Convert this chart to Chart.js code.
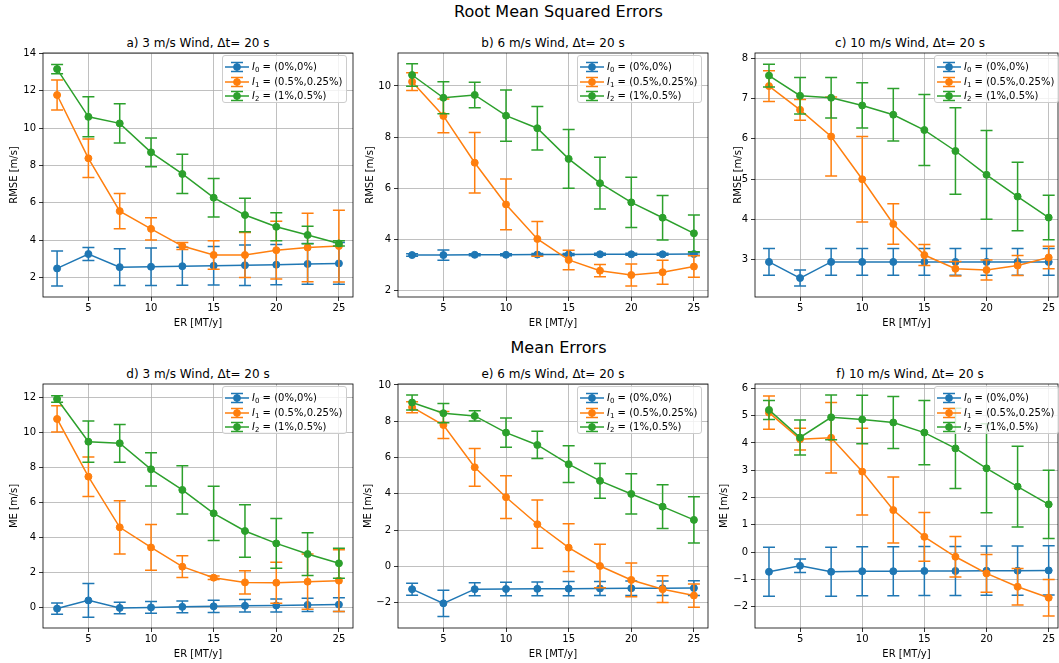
<!DOCTYPE html>
<html>
<head>
<meta charset="utf-8">
<script src="https://cdn.jsdelivr.net/npm/chart.js@4.4.0/dist/chart.umd.min.js"></script>
<style>
html,body{margin:0;padding:0;background:#fff;}
body{width:1059px;height:663px;overflow:hidden;position:relative;font-family:'DejaVu Sans',sans-serif;color:#000;}
.suptitle{position:absolute;left:0;width:1117px;text-align:center;font-size:16px;line-height:18px;white-space:nowrap;}
.ptitle{position:absolute;text-align:center;font-size:12px;line-height:14px;white-space:nowrap;}
.panel{position:absolute;}
.leg{position:absolute;width:125px;height:48px;border:1px solid #cccccc;border-radius:3px;background:rgba(255,255,255,0.8);box-sizing:border-box;z-index:5;}
.leg .row{position:absolute;left:0;height:12px;}
.leg svg{position:absolute;left:1px;top:0;}
.leg .txt{position:absolute;left:29px;top:0;font-size:10px;line-height:12px;white-space:nowrap;}
.leg .txt i{font-style:italic;}
.leg .txt sub{font-size:7px;vertical-align:-2px;line-height:0;}
</style>
</head>
<body>
<div class="suptitle" style="top:3px;">Root Mean Squared Errors</div>
<div class="suptitle" style="top:339px;">Mean Errors</div>
<script>
// ---------------- data ----------------
const ER = [2.5, 5, 7.5, 10, 12.5, 15, 17.5, 20, 22.5, 25];
const xTicks = [5, 10, 15, 20, 25];
const legendSubs = ['0', '1', '2'];
const legendValues = ['(0%,0%)', '(0.5%,0.25%)', '(1%,0.5%)'];
const panelTitles = ['a) 3 m/s Wind, \u0394t= 20 s', 'b) 6 m/s Wind, \u0394t= 20 s', 'c) 10 m/s Wind, \u0394t= 20 s',
                     'd) 3 m/s Wind, \u0394t= 20 s', 'e) 6 m/s Wind, \u0394t= 20 s', 'f) 10 m/s Wind, \u0394t= 20 s'];
const xLabel = 'ER [MT/y]';
const yLabels = ['RMSE [m/s]', 'RMSE [m/s]', 'RMSE [m/s]', 'ME [m/s]', 'ME [m/s]', 'ME [m/s]'];

// a) RMSE 3 m/s
const rmse3_I0 = [2.48, 3.25, 2.55, 2.57, 2.60, 2.62, 2.65, 2.68, 2.72, 2.75];
const rmse3_I0_err = [0.94, 0.35, 0.99, 1.0, 1.02, 1.03, 1.08, 1.08, 1.09, 1.12];
const rmse3_I1 = [11.77, 8.38, 5.55, 4.60, 3.68, 3.20, 3.20, 3.46, 3.60, 3.68];
const rmse3_I1_err = [0.8, 1.03, 0.94, 0.6, 0.19, 0.76, 1.2, 1.55, 1.83, 1.92];
const rmse3_I2 = [13.16, 10.6, 10.25, 8.7, 7.54, 6.27, 5.34, 4.71, 4.27, 3.82];
const rmse3_I2_err = [0.25, 1.07, 1.05, 0.77, 1.05, 1.03, 0.9, 0.75, 0.47, 0.14];
// b) RMSE 6 m/s
const rmse6_I0 = [3.39, 3.39, 3.40, 3.40, 3.41, 3.41, 3.42, 3.42, 3.42, 3.43];
const rmse6_I0_err = [0.05, 0.2, 0.04, 0.04, 0.04, 0.04, 0.04, 0.04, 0.04, 0.05];
const rmse6_I1 = [10.17, 8.83, 7.0, 5.37, 4.02, 3.20, 2.78, 2.61, 2.72, 2.94];
const rmse6_I1_err = [0.35, 0.66, 1.18, 0.99, 0.68, 0.38, 0.24, 0.43, 0.47, 0.42];
const rmse6_I2 = [10.43, 9.54, 9.65, 8.84, 8.35, 7.15, 6.2, 5.45, 4.85, 4.24];
const rmse6_I2_err = [0.44, 0.63, 0.5, 1.0, 0.85, 1.15, 1.01, 0.98, 0.87, 0.72];
// c) RMSE 10 m/s
const rmse10_I0 = [2.95, 2.55, 2.95, 2.95, 2.95, 2.95, 2.95, 2.95, 2.95, 2.95];
const rmse10_I0_err = [0.33, 0.2, 0.33, 0.33, 0.33, 0.33, 0.33, 0.33, 0.33, 0.33];
const rmse10_I1 = [7.31, 6.72, 6.06, 5.0, 3.89, 3.12, 2.78, 2.75, 2.86, 3.06];
const rmse10_I1_err = [0.38, 0.26, 0.98, 1.06, 0.5, 0.26, 0.18, 0.25, 0.25, 0.28];
const rmse10_I2 = [7.57, 7.07, 7.02, 6.83, 6.6, 6.22, 5.7, 5.11, 4.57, 4.05];
const rmse10_I2_err = [0.28, 0.45, 0.5, 0.56, 0.65, 0.88, 1.07, 1.1, 0.85, 0.55];
// d) ME 3 m/s
const me3_I0 = [-0.07, 0.4, -0.03, 0.0, 0.03, 0.06, 0.09, 0.11, 0.14, 0.16];
const me3_I0_err = [0.32, 0.96, 0.33, 0.33, 0.34, 0.35, 0.36, 0.37, 0.38, 0.39];
const me3_I1 = [10.78, 7.48, 4.58, 3.43, 2.33, 1.70, 1.43, 1.41, 1.47, 1.53];
const me3_I1_err = [0.75, 1.13, 1.52, 1.31, 0.62, 0.1, 0.67, 1.17, 1.58, 1.76];
const me3_I2 = [11.92, 9.48, 9.39, 7.9, 6.72, 5.38, 4.37, 3.66, 3.05, 2.52];
const me3_I2_err = [0.19, 1.18, 1.08, 0.95, 1.38, 1.55, 1.5, 1.42, 1.22, 0.86];
// e) ME 6 m/s
const me6_I0 = [-1.26, -2.04, -1.26, -1.25, -1.24, -1.23, -1.22, -1.21, -1.21, -1.20];
const me6_I0_err = [0.33, 0.72, 0.36, 0.37, 0.38, 0.39, 0.39, 0.4, 0.4, 0.41];
const me6_I1 = [8.77, 7.79, 5.46, 3.81, 2.32, 1.03, 0.02, -0.75, -1.26, -1.61];
const me6_I1_err = [0.3, 0.75, 1.04, 1.18, 1.33, 1.31, 1.2, 0.93, 0.74, 0.64];
const me6_I2 = [9.03, 8.44, 8.29, 7.37, 6.69, 5.63, 4.71, 3.99, 3.29, 2.56];
const me6_I2_err = [0.41, 0.53, 0.28, 0.8, 0.75, 1.01, 0.96, 1.11, 1.21, 1.27];
// f) ME 10 m/s
const me10_I0 = [-0.72, -0.5, -0.72, -0.7, -0.7, -0.69, -0.69, -0.68, -0.68, -0.67];
const me10_I0_err = [0.9, 0.25, 0.9, 0.9, 0.9, 0.9, 0.9, 0.9, 0.9, 0.9];
const me10_I1 = [5.11, 4.14, 4.19, 2.95, 1.54, 0.56, -0.17, -0.78, -1.27, -1.67];
const me10_I1_err = [0.61, 0.4, 1.29, 1.59, 1.21, 0.89, 0.74, 0.69, 0.67, 0.67];
const me10_I2 = [5.21, 4.2, 4.94, 4.86, 4.75, 4.38, 3.8, 3.07, 2.4, 1.75];
const me10_I2_err = [0.35, 0.64, 0.82, 0.89, 0.95, 1.18, 1.47, 1.63, 1.48, 1.25];

// y tick labels per panel
const yTicksA = [2, 4, 6, 8, 10, 12, 14];
const yTicksB = [2, 4, 6, 8, 10];
const yTicksC = [3, 4, 5, 6, 7, 8];
const yTicksD = [0, 2, 4, 6, 8, 10, 12];
const yTicksE = [-2, 0, 2, 4, 6, 8, 10];
const yTicksF = [-2, -1, 0, 1, 2, 3, 4, 5, 6];

// ---------------- styles / layout ----------------
const COLORS = ['#1f77b4', '#ff7f0e', '#2ca02c'];
const FONT = 'DejaVu Sans';
const CAP = 6;

const panels = [
  {title: panelTitles[0], ylabel: yLabels[0], s: [[rmse3_I0, rmse3_I0_err], [rmse3_I1, rmse3_I1_err], [rmse3_I2, rmse3_I2_err]],
   yt: yTicksA, ymin: 0.95, ymax: 14.02, xmax: 26.125, l: 43, t: 53, r: 353, b: 297, ytx: 14},
  {title: panelTitles[1], ylabel: yLabels[1], s: [[rmse6_I0, rmse6_I0_err], [rmse6_I1, rmse6_I1_err], [rmse6_I2, rmse6_I2_err]],
   yt: yTicksB, ymin: 1.75, ymax: 11.29, xmax: 26.125, l: 398, t: 53, r: 708, b: 297, ytx: 370},
  {title: panelTitles[2], ylabel: yLabels[2], s: [[rmse10_I0, rmse10_I0_err], [rmse10_I1, rmse10_I1_err], [rmse10_I2, rmse10_I2_err]],
   yt: yTicksC, ymin: 2.08, ymax: 8.13, xmax: 25.75, l: 755, t: 53, r: 1058, b: 297, ytx: 738},
  {title: panelTitles[3], ylabel: yLabels[3], s: [[me3_I0, me3_I0_err], [me3_I1, me3_I1_err], [me3_I2, me3_I2_err]],
   yt: yTicksD, ymin: -1.18, ymax: 12.78, xmax: 26.125, l: 43, t: 384, r: 353, b: 628, ytx: 14},
  {title: panelTitles[4], ylabel: yLabels[4], s: [[me6_I0, me6_I0_err], [me6_I1, me6_I1_err], [me6_I2, me6_I2_err]],
   yt: yTicksE, ymin: -3.4, ymax: 10.05, xmax: 26.125, l: 398, t: 384, r: 708, b: 628, ytx: 368},
  {title: panelTitles[5], ylabel: yLabels[5], s: [[me10_I0, me10_I0_err], [me10_I1, me10_I1_err], [me10_I2, me10_I2_err]],
   yt: yTicksF, ymin: -2.78, ymax: 6.16, xmax: 25.75, l: 755, t: 384, r: 1058, b: 628, ytx: 724}
];

const fmt = v => (v < 0 ? '\u2212' + Math.abs(v) : String(v));

const errorBarPlugin = {
  id: 'errbars',
  afterDatasetDraw(chart, args) {
    const ds = chart.data.datasets[args.index];
    if (!ds.errs) return;
    const xs = chart.scales.x, ys = chart.scales.y, ctx = chart.ctx;
    ctx.save();
    ctx.strokeStyle = ds.borderColor;
    ctx.lineWidth = 1.5;
    ds.data.forEach((p, i) => {
      const e = ds.errs[i];
      const px = xs.getPixelForValue(p.x);
      const top = ys.getPixelForValue(p.y + e);
      const bot = ys.getPixelForValue(p.y - e);
      ctx.beginPath();
      ctx.moveTo(px, top); ctx.lineTo(px, bot);
      ctx.moveTo(px - CAP, top); ctx.lineTo(px + CAP, top);
      ctx.moveTo(px - CAP, bot); ctx.lineTo(px + CAP, bot);
      ctx.stroke();
    });
    ctx.restore();
  }
};

const framePlugin = {
  id: 'frame',
  beforeDatasetsDraw(chart) {
    const a = chart.chartArea, ctx = chart.ctx;
    ctx.save();
    ctx.strokeStyle = '#000';
    ctx.lineWidth = 0.8;
    ctx.strokeRect(a.left, a.top, a.right - a.left, a.bottom - a.top);
    ctx.restore();
  }
};

function legendSVG(color) {
  return '<svg width="26" height="12" viewBox="0 0 26 12">' +
    '<line x1="1" y1="6" x2="25" y2="6" stroke="' + color + '" stroke-width="1.5"/>' +
    '<line x1="13" y1="1.5" x2="13" y2="10.5" stroke="' + color + '" stroke-width="1.5"/>' +
    '<line x1="7" y1="1.5" x2="19" y2="1.5" stroke="' + color + '" stroke-width="1.5"/>' +
    '<line x1="7" y1="10.5" x2="19" y2="10.5" stroke="' + color + '" stroke-width="1.5"/>' +
    '<circle cx="13" cy="6" r="3.8" fill="' + color + '"/></svg>';
}

panels.forEach(p => {
  const T = 10, R = 8, H = 32;
  const cLeft = p.ytx - 6;
  const W = p.l - cLeft;
  const cw = (p.r - p.l) + W + R;
  const ch = (p.b - p.t) + T + H;

  // subplot title
  const tdiv = document.createElement('div');
  tdiv.className = 'ptitle';
  tdiv.style.left = ((p.l + (p.l + 310)) / 2 - 150) + 'px';
  tdiv.style.width = '300px';
  tdiv.style.top = (p.t - 17) + 'px';
  tdiv.textContent = p.title;
  document.body.appendChild(tdiv);

  const wrap = document.createElement('div');
  wrap.className = 'panel';
  wrap.style.left = cLeft + 'px';
  wrap.style.top = (p.t - T) + 'px';
  wrap.style.width = cw + 'px';
  wrap.style.height = ch + 'px';
  const canvas = document.createElement('canvas');
  canvas.width = cw; canvas.height = ch;
  canvas.style.width = cw + 'px'; canvas.style.height = ch + 'px';
  wrap.appendChild(canvas);
  document.body.appendChild(wrap);

  const datasets = p.s.map((pair, k) => ({
    label: 'I' + legendSubs[k] + ' = ' + legendValues[k],
    data: ER.map((x, i) => ({x: x, y: pair[0][i]})),
    errs: pair[1],
    showLine: true,
    borderColor: COLORS[k],
    backgroundColor: COLORS[k],
    borderWidth: 1.5,
    pointRadius: 3.5,
    pointBorderWidth: 1,
    pointHoverRadius: 3.5,
    order: 2 - k,
    clip: false
  }));

  const tickFont = {family: FONT, size: 10};
  new Chart(canvas, {
    type: 'scatter',
    data: {datasets},
    options: {
      responsive: false,
      animation: false,
      devicePixelRatio: 1,
      events: [],
      layout: {padding: {left: 0, top: T, right: R, bottom: 0}},
      plugins: {legend: {display: false}, tooltip: {enabled: false}, title: {display: false}},
      scales: {
        x: {
          type: 'linear', position: 'bottom', min: 1.375, max: p.xmax,
          afterBuildTicks: s => { s.ticks = xTicks.map(v => ({value: v})); },
          afterFit: s => { s.height = H; },
          ticks: {font: tickFont, color: '#000', padding: 1, maxRotation: 0, autoSkip: false, includeBounds: false, callback: v => fmt(v)},
          grid: {color: '#b0b0b0', lineWidth: 0.8, tickLength: 4, tickColor: '#000', tickWidth: 0.8},
          border: {display: false},
          title: {display: true, text: xLabel, font: {family: FONT, size: 10}, color: '#000', padding: 0}
        },
        y: {
          type: 'linear', position: 'left', min: p.ymin, max: p.ymax,
          afterBuildTicks: s => { s.ticks = p.yt.map(v => ({value: v})); },
          afterFit: s => { s.width = W; },
          ticks: {font: tickFont, color: '#000', padding: 3, autoSkip: false, includeBounds: false, callback: v => fmt(v)},
          grid: {color: '#b0b0b0', lineWidth: 0.8, tickLength: 4, tickColor: '#000', tickWidth: 0.8},
          border: {display: false},
          title: {display: true, text: p.ylabel, font: {family: FONT, size: 10}, color: '#000', padding: 0}
        }
      }
    },
    plugins: [framePlugin, errorBarPlugin]
  });

  // legend
  const leg = document.createElement('div');
  leg.className = 'leg';
  leg.style.left = (p.l + 179) + 'px';
  leg.style.top = (p.t + 2) + 'px';
  const rowsY = [5, 20, 34];
  let html = '';
  for (let k = 0; k < 3; k++) {
    html += '<div class="row" style="top:' + rowsY[k] + 'px;width:130px;">' + legendSVG(COLORS[k]) +
      '<div class="txt"><i>I</i><sub>' + legendSubs[k] + '</sub> = ' + legendValues[k] + '</div></div>';
  }
  leg.innerHTML = html;
  document.body.appendChild(leg);
});
</script>
</body>
</html>
